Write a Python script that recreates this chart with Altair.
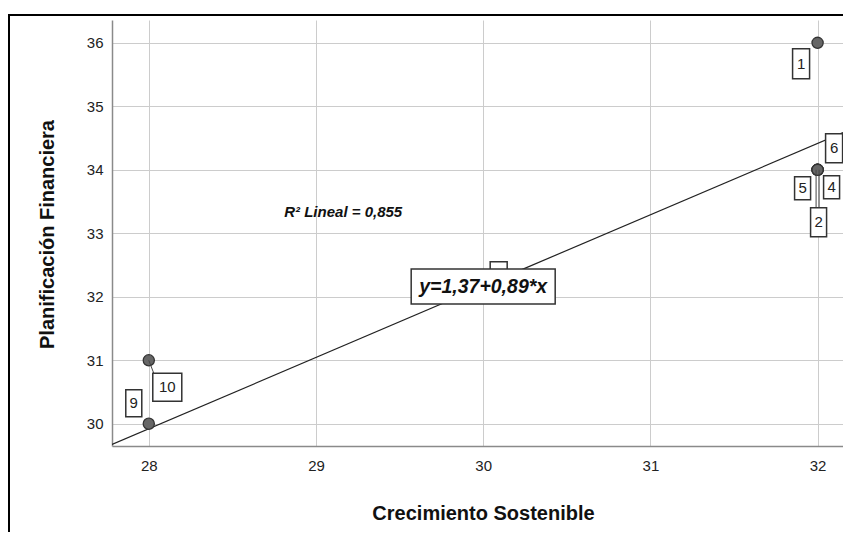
import altair as alt
import pandas as pd

# ---- data ----
case_ids = ["3", "1", "2", "4", "5", "6", "9", "10"]
crecimiento = [30, 32, 32, 32, 32, 32, 28, 28]
planificacion = [32, 36, 34, 34, 34, 34, 30, 31]
# label "3" is fully covered by the equation label in the reference
hidden_label_ids = ["3"]

fit_intercept = 1.37
fit_slope = 0.89
r2_value = "0,855"

x_domain = [27.78, 32.152]
y_domain = [29.65, 36.36]
x_ticks = [28, 29, 30, 31, 32]
y_ticks = [30, 31, 32, 33, 34, 35, 36]

# ---- label box layout (pixel offsets from point: x0, x1, y0, y1) ----
box_offsets = {
    "3": (7, 24, -35, -7),
    "1": (-25, -8, 6, 36),
    "6": (8, 25, -36, -7),
    "5": (-23, -7, 7, 30),
    "4": (6, 22, 6, 29),
    "2": (-7, 9, 38, 67),
    "9": (-23, -7, -34, -7),
    "10": (4, 33, 13, 41),
}

FONT = "Liberation Sans"

df = pd.DataFrame({"id": case_ids, "crec": crecimiento, "plan": planificacion})

xs = alt.Scale(domain=x_domain, nice=False, zero=False)
ys = alt.Scale(domain=y_domain, nice=False, zero=False)

X = alt.X("crec:Q", scale=xs, axis=alt.Axis(
    values=x_ticks, format="d", title="Crecimiento Sostenible",
    grid=True, gridColor="#cccccc", gridWidth=1,
    domainColor="#8a8a8a", domainWidth=1.5, ticks=False,
    labelPadding=12, labelFont=FONT, labelFontSize=15, labelColor="#222222",
    titleFont=FONT, titleFontSize=20, titleFontWeight="bold", titleColor="#111111",
    titleX=371, titleY=67, titleAlign="center", titleBaseline="middle"))
Y = alt.Y("plan:Q", scale=ys, axis=alt.Axis(
    values=y_ticks, format="d", title="Planificación Financiera",
    grid=True, gridColor="#cccccc", gridWidth=1,
    domainColor="#8a8a8a", domainWidth=1.5, ticks=False,
    labelPadding=9, labelFont=FONT, labelFontSize=15, labelColor="#222222",
    titleFont=FONT, titleFontSize=20, titleFontWeight="bold", titleColor="#111111",
    titleX=-65, titleY=214, titleAlign="center", titleBaseline="middle"))

base = alt.Chart(df)

# outer frame
frame = alt.Chart(pd.DataFrame({"a": [0]})).mark_rect(
    fillOpacity=0, stroke="#000000", strokeWidth=2
).encode(x=alt.value(-103), x2=alt.value(3000), y=alt.value(-5), y2=alt.value(3000))

# regression line  (x = a + b*y  ->  y = (x - a)/b)
line_df = pd.DataFrame({"crec": x_domain})
fit_line = alt.Chart(line_df).transform_calculate(
    plan=f"(datum.crec - {fit_intercept}) / {fit_slope}"
).mark_line(color="#222222", strokeWidth=1.2, clip=True).encode(x=X, y=Y)

points = base.mark_circle(size=125, color="#666666", stroke="#333333",
                          strokeWidth=1.3, opacity=1).encode(x=X, y=Y)

# leader lines
leaders = []
lead_specs = [("10", 0, 0, 5, 13), ("2", -1.5, 0, -1.5, 38), ("2", 1.5, 0, 1.5, 38)]
for cid, xo, yo, x2o, y2o in lead_specs:
    leaders.append(base.transform_filter(alt.datum.id == cid).mark_rule(
        color="#444444", strokeWidth=1, xOffset=xo, yOffset=yo,
        x2Offset=x2o, y2Offset=y2o).encode(
        x=X, y=Y, x2=alt.X2("crec"), y2=alt.Y2("plan")))

boxes = []
texts = []
for cid in case_ids:
    x0, x1, y0, y1 = box_offsets[cid]
    sub = base.transform_filter(alt.datum.id == cid)
    boxes.append(sub.mark_rect(
        fill="white", stroke="#333333", strokeWidth=1.5,
        xOffset=x0, x2Offset=x1, yOffset=y0, y2Offset=y1).encode(
        x=X, y=Y, x2=alt.X2("crec"), y2=alt.Y2("plan")))
    if cid in hidden_label_ids:
        continue
    texts.append(sub.mark_text(
        font=FONT, fontSize=15, color="#222222", align="center", baseline="middle",
        dx=(x0 + x1) / 2, dy=(y0 + y1) / 2).encode(x=X, y=Y, text="id:N"))

# R² annotation
r2_df = pd.DataFrame({"crec": [28.81], "plan": [33.34], "t": [f"R² Lineal = {r2_value}"]})
r2_text = alt.Chart(r2_df).mark_text(
    font=FONT, fontSize=15, fontWeight="bold", fontStyle="italic", color="#111111",
    align="left", baseline="middle").encode(x=X, y=Y, text="t:N")

# equation label placed on the fit line at x = 30
eq_df = pd.DataFrame({"crec": [30.0], "t": [f"y={fit_intercept:.2f}+{fit_slope:.2f}*x".replace(".", ",")]})
eq_base = alt.Chart(eq_df).transform_calculate(
    plan=f"(datum.crec - {fit_intercept}) / {fit_slope}")
eq_box = eq_base.mark_rect(fill="white", stroke="#333333", strokeWidth=1.5,
                           xOffset=-72, x2Offset=72, yOffset=-17, y2Offset=18).encode(
    x=X, y=Y, x2=alt.X2("crec"), y2=alt.Y2("plan"))
eq_text = eq_base.mark_text(font=FONT, fontSize=19.5, fontWeight="bold", fontStyle="italic",
                            color="#111111", align="center", baseline="middle", dy=1).encode(
    x=X, y=Y, text="t:N")

chart = alt.layer(
    frame, fit_line, points, *leaders, *boxes, *texts, r2_text, eq_box, eq_text
).properties(
    width=731, height=426,
    padding={"left": 104, "top": 12, "right": 0, "bottom": 86},
    autosize=alt.AutoSizeParams(type="none"),
    background="white",
).configure_view(stroke=None)

chart.save("out.html", embed_options={"renderer": "svg", "actions": False})
